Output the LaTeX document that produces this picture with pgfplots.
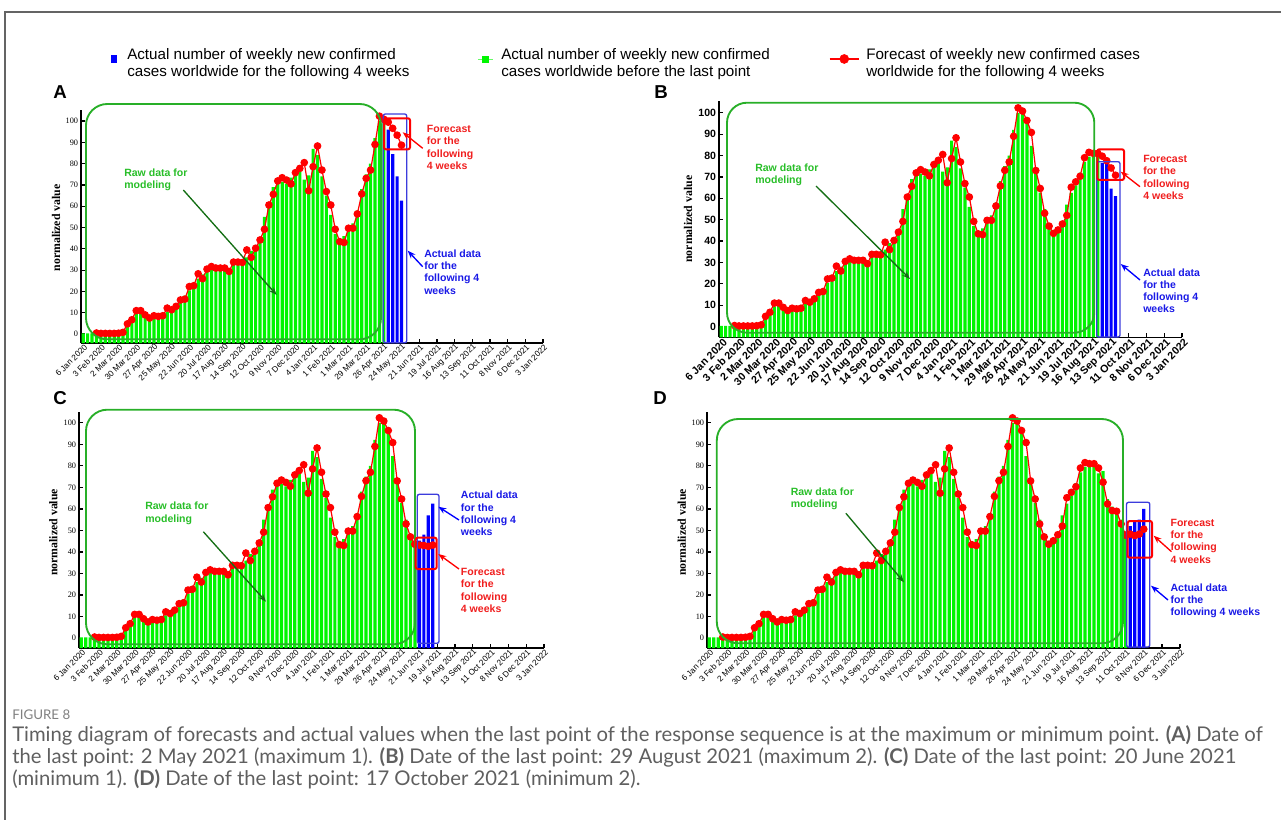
\documentclass[border=0pt]{standalone}
\usepackage{pgfplots}
\pgfplotsset{compat=1.18}
\usepackage{pgfplotstable}
\usepackage{fontspec}
\setmainfont{Liberation Serif}
\newfontfamily\arial{Liberation Sans}
\newfontfamily\lato{Lato}
\usetikzlibrary{arrows.meta}

\definecolor{grn}{RGB}{0,245,0}
\definecolor{grnbox}{RGB}{40,175,40}
\definecolor{grntxt}{RGB}{40,190,40}
\definecolor{grnarrow}{RGB}{20,110,20}
\definecolor{bl}{RGB}{0,0,255}
\definecolor{blbox}{RGB}{60,60,220}
\definecolor{bltxt}{RGB}{25,25,230}
\definecolor{rd}{RGB}{255,0,0}
\definecolor{rdtxt}{RGB}{240,30,30}
\definecolor{capgray}{RGB}{95,95,95}
\definecolor{framegray}{RGB}{100,100,100}

\newcommand\annfont{\arial\bfseries\fontsize{7.9}{9.2}\selectfont}

\pgfplotstableread{
w g
0 0.3
1 0.3
2 0.3
3 0.5
4 0.5
5 0.5
6 0.6
7 0.8
8 1.0
9 1.5
10 4
11 7
12 9.5
13 10
14 9
15 8.5
16 9
17 9.5
18 10
19 10.5
20 12
21 13.5
22 15.5
23 18
24 20.5
25 23.5
26 26
27 28
28 30
29 31.5
30 31.5
31 32
32 31
33 31
34 32.5
35 33.5
36 35
37 36
38 39
39 41
40 45
41 55
42 61
43 69
44 71
45 71.5
46 70.5
47 73.5
48 77
49 79
50 72.5
51 74.5
52 87
53 84
54 74
55 65
56 56
57 47
58 43
59 46
60 49
61 52
62 58
63 68
64 75
65 80
66 92
67 100
68 101
69 96
70 84.5
71 74
72 62.7
73 55
74 47
75 44
76 45.3
77 48
78 57
79 62.5
80 66
81 72
82 77
83 79.5
84 80
85 80
86 76.5
87 77.5
88 64.5
89 61
90 59
91 55
92 48
}\greentab

\pgfplotstableread{
w r
3 0.5
4 0.3
5 0.3
6 0.3
7 0.3
8 0.4
9 0.8
10 4.8
11 6.7
12 11
13 11
14 9
15 7.5
16 8.6
17 8.3
18 8.6
19 12.2
20 11.4
21 13
22 16
23 16.4
24 22.3
25 22.7
26 28.3
27 26
28 30.5
29 31.7
30 31
31 31
32 31
33 29.4
34 33.8
35 33.8
36 33.6
37 39.5
38 36
39 40.3
40 44.2
41 49.2
42 60.6
43 65.6
44 71.9
45 73.4
46 72.3
47 70.5
48 75.8
49 77.8
50 80.5
51 67.3
52 78.6
53 88.3
54 77
55 66.9
56 60.6
57 49.2
58 43.4
59 43
60 49.7
61 49.7
62 56.4
63 65.8
64 73.1
65 77
66 89
67 102.3
68 100.8
69 96.4
70 90.8
71 73
72 64.6
73 53
74 47
75 43.6
76 45.2
77 48
78 52
79 65.2
80 67.7
81 70.3
82 79
83 81.5
84 81
85 81
86 79
87 72.4
88 62.3
89 59.2
90 58.9
91 53
92 47.8
}\redtab

\pgfplotsset{
  panel/.style={
    scale only axis, anchor=south west,
    xmin=-0.5, xmax=104,
    axis x line*=bottom, axis y line*=left,
    axis line style={line width=1.1pt, -},
    tick align=inside, major tick length=3pt,
    tick style={line width=0.9pt, black},
    xtick={0,4,...,104},
    xticklabels={6 Jan 2020, 3 Feb 2020, 2 Mar 2020, 30 Mar 2020, 27 Apr 2020, 25 May 2020, 22 Jun 2020, 20 Jul 2020, 17 Aug 2020, 14 Sep 2020, 12 Oct 2020, 9 Nov 2020, 7 Dec 2020, 4 Jan 2021, 1 Feb 2021, 1 Mar 2021, 29 Mar 2021, 26 Apr 2021, 24 May 2021, 21 Jun 2021, 19 Jul 2021, 16 Aug 2021, 13 Sep 2021, 11 Oct 2021, 8 Nov 2021, 6 Dec 2021, 3 Jan 2022},
    ytick={5,15,25,35,45,55,65,75,85,95,105},
    yticklabels={0,10,20,30,40,50,60,70,80,90,100},
    y filter/.expression={y+5},
    clip mode=individual,
    ylabel={normalized value},
    ylabel style={font=\bfseries\fontsize{8.85}{10}\selectfont, anchor=center},
    xticklabel style={rotate=45, anchor=east, inner sep=1pt, yshift=-3pt, xshift=1pt},
    yticklabel style={inner sep=2pt},
  },
  smallticks/.style={
    xticklabel style={font=\arial\fontsize{6.2}{7}\selectfont},
    yticklabel style={font=\fontsize{6.2}{7}\selectfont},
  },
  gbar/.style={ybar, bar shift=0pt, bar width=0.72, fill=grn, draw=none},
  bbar/.style={ybar, bar shift=0pt, bar width=0.72, fill=bl, draw=none},
  rline/.style={color=rd, line width=0.9pt, mark=*, mark size=2.4pt, mark options={fill=rd, draw=rd}},
}

\begin{document}
\begin{tikzpicture}
\useasboundingbox (0,0) rectangle (960.75pt,614.25pt);

% ---------- Panel A ----------
\begin{axis}[panel, smallticks,
  at={(60.75pt,357pt)}, width=346.5pt, height=174.75pt,
  ymin=0.8, ymax=110.2,
  ylabel style={at={(axis description cs:-0.054,0.494)}},
  legend style={at={(axis description cs:0.0043,1.219)}, anchor=west, draw=none, fill=none,
    legend columns=3, inner sep=0pt, column sep=0pt, row sep=0pt,
    nodes={inner sep=0pt, outer sep=0pt},
    font=\arial\fontsize{11.4}{13.3}\selectfont},
  legend cell align=left,
]
\addlegendimage{legend image code/.code={\path[draw=none,fill=none] (0pt,-5pt) rectangle (33pt,5pt); \fill[bl] (21pt,-2.6pt) rectangle (24.4pt,2.6pt);}}
\addlegendentry{\parbox{246pt}{Actual number of weekly new confirmed\newline cases worldwide for the following 4 weeks}}
\addlegendimage{legend image code/.code={\path[draw=none,fill=none] (0pt,-5pt) rectangle (34.5pt,5pt); \draw[grn!60!white, line width=0.5pt] (17pt,0pt) -- (28.5pt,0pt); \fill[grn] (20.5pt,-2.25pt) rectangle (25pt,2.25pt);}}
\addlegendentry{\parbox{239.25pt}{Actual number of weekly new confirmed\newline cases worldwide before the last point}}
\addlegendimage{legend image code/.code={\path[draw=none,fill=none] (0pt,-5pt) rectangle (34.5pt,5pt); \draw[rd, line width=1.2pt] (7pt,0pt) -- (29pt,0pt); \fill[rd] (18pt,0pt) circle (3.4pt);}}
\addlegendentry{\parbox{225pt}{Forecast of weekly new confirmed cases\newline worldwide for the following 4 weeks}}

\addplot[gbar, restrict x to domain=0:68, forget plot] table[x=w,y=g]{\greentab};
\addplot[bbar, forget plot] coordinates {(69,96) (70,84.5) (71,74) (72,62.7)};
\addplot[rline, restrict x to domain=3:68, forget plot] table[x=w,y=r]{\redtab};
\addplot[rline, forget plot] coordinates {(68,100.8) (69,99.5) (70,96.6) (71,93.4) (72,88.7)};
\end{axis}

% ---------- Panel B ----------
\begin{axis}[panel,
  at={(539.25pt,361.275pt)}, width=347.25pt, height=177.2pt,
  ymin=0, ymax=110.5,
  ylabel style={at={(axis description cs:-0.067,0.50)}},
  xticklabel style={font=\arial\bfseries\fontsize{8}{9}\selectfont, inner sep=0.5pt, yshift=-1pt},
  yticklabel style={font=\arial\bfseries\fontsize{7.9}{9}\selectfont},
]
\addplot[gbar, restrict x to domain=0:85] table[x=w,y=g]{\greentab};
\addplot[bbar] coordinates {(86,76.5) (87,77.5) (88,64.5) (89,61)};
\addplot[rline, restrict x to domain=3:85] table[x=w,y=r]{\redtab};
\addplot[rline] coordinates {(85,81) (86,79.7) (87,77.6) (88,74.2) (89,70.8)};
\end{axis}

% ---------- Panel C ----------
\begin{axis}[panel, smallticks,
  at={(59.25pt,128.25pt)}, width=348.75pt, height=177pt,
  ymin=0.4, ymax=110,
  ylabel style={at={(axis description cs:-0.055,0.49)}},
]
\addplot[gbar, restrict x to domain=0:75] table[x=w,y=g]{\greentab};
\addplot[bbar] coordinates {(76,45.3) (77,48) (78,57) (79,62.5)};
\addplot[rline, restrict x to domain=3:75] table[x=w,y=r]{\redtab};
\addplot[rline] coordinates {(75,43.6) (76,43.2) (77,43) (78,42.6) (79,43.2)};
\end{axis}

% ---------- Panel D ----------
\begin{axis}[panel, smallticks,
  at={(530.25pt,128.25pt)}, width=354.75pt, height=177pt,
  ymin=0.4, ymax=110,
  ylabel style={at={(axis description cs:-0.053,0.49)}},
]
\addplot[gbar, restrict x to domain=0:92] table[x=w,y=g]{\greentab};
\addplot[bbar] coordinates {(93,52) (94,54) (95,55) (96,60)};
\addplot[rline, restrict x to domain=3:92] table[x=w,y=r]{\redtab};
\addplot[rline] coordinates {(92,47.8) (93,48.3) (94,47.6) (95,48.3) (96,50.6)};
\end{axis}

% ---------- Annotations (pixel coordinates) ----------
\begin{scope}[x=0.75pt,y=-0.75pt,yshift=614.25pt]
% frame
\draw[framegray, line width=1.1pt] (5,1000) -- (5,12) -- (1290,12);
% panel letters
\foreach \l/\x/\y in {A/60/92, B/661/92, C/60/398, D/660/398}
  \node[font=\arial\bfseries\fontsize{14}{16}\selectfont] at (\x,\y) {\l};

% Panel A
\draw[grnbox, line width=1.4pt, rounded corners=16pt] (86,104) rectangle (381,339.3);
\draw[blbox, line width=1pt, rounded corners=1.5pt] (383.3,114) rectangle (406.7,342.7);
\draw[rd, line width=1.5pt, rounded corners=1.5pt] (384,118.3) rectangle (410,149.3);
\node[anchor=west, align=left, inner sep=0pt, text=rdtxt, font=\annfont] at (426.7,147.3) {Forecast\\for the\\following\\4 weeks};
\node[anchor=west, align=left, inner sep=0pt, text=bltxt, font=\annfont] at (424,272) {Actual data\\for the\\following 4\\weeks};
\draw[rd, line width=1pt, -{Stealth[length=6pt,width=4.5pt]}] (422.7,148.3) -- (402.7,132.3);
\draw[bl, line width=1pt, -{Stealth[length=6pt,width=4.5pt]}] (422.7,266.7) -- (407.7,250.7);
\node[anchor=west, align=left, inner sep=0pt, text=grntxt, font=\annfont] at (124,179.7) {Raw data for\\modeling};
\draw[grnarrow, line width=1pt, -{Stealth[length=6pt,width=4.5pt]}] (183.3,190) -- (276.7,295);

% Panel B
\draw[grnbox, line width=1.4pt, rounded corners=15pt] (727,102.7) rectangle (1094.3,332.7);
\draw[blbox, line width=1pt, rounded corners=1.5pt] (1096.7,161.7) rectangle (1120,337);
\draw[rd, line width=1.5pt, rounded corners=1.5pt] (1097.3,149.3) rectangle (1124,180);
\node[anchor=west, align=left, inner sep=0pt, text=rdtxt, font=\annfont] at (1143,177.5) {Forecast\\for the\\following\\4 weeks};
\node[anchor=west, align=left, inner sep=0pt, text=bltxt, font=\annfont] at (1143,290.7) {Actual data\\for the\\following 4\\weeks};
\draw[rd, line width=1pt, -{Stealth[length=6pt,width=4.5pt]}] (1140,186.7) -- (1120.7,171.7);
\draw[bl, line width=1pt, -{Stealth[length=6pt,width=4.5pt]}] (1140,280) -- (1120.7,264);
\node[anchor=west, align=left, inner sep=0pt, text=grntxt, font=\annfont] at (755,174.5) {Raw data for\\modeling};
\draw[grnarrow, line width=1pt, -{Stealth[length=6pt,width=4.5pt]}] (816,186) -- (910,279);

% Panel C
\draw[grnbox, line width=1.4pt, rounded corners=16pt] (86,409.7) rectangle (415,644.3);
\draw[blbox, line width=1pt, rounded corners=1.5pt] (417.3,494.3) rectangle (439,643.3);
\draw[rd, line width=1.5pt, rounded corners=1.5pt] (415.7,537.7) rectangle (436.7,569);
\node[anchor=west, align=left, inner sep=0pt, text=bltxt, font=\annfont] at (460.7,513.5) {Actual data\\for the\\following 4\\weeks};
\node[anchor=west, align=left, inner sep=0pt, text=rdtxt, font=\annfont] at (460.7,590.5) {Forecast\\for the\\following\\4 weeks};
\draw[bl, line width=1pt, -{Stealth[length=6pt,width=4.5pt]}] (459,520) -- (438.3,506.7);
\draw[rd, line width=1pt, -{Stealth[length=6pt,width=4.5pt]}] (459,569) -- (438.3,554);
\node[anchor=west, align=left, inner sep=0pt, text=grntxt, font=\annfont] at (145,513.3) {Raw data for\\modeling};
\draw[grnarrow, line width=1pt, -{Stealth[length=6pt,width=4.5pt]}] (203.3,531.7) -- (266,601.7);

% Panel D
\draw[grnbox, line width=1.4pt, rounded corners=16pt] (716.8,419) rectangle (1123,643.3);
\draw[blbox, line width=1pt, rounded corners=1.5pt] (1126.5,502.3) rectangle (1149.8,647);
\draw[rd, line width=1.5pt, rounded corners=1.5pt] (1127.7,521) rectangle (1152,557.7);
\node[anchor=west, align=left, inner sep=0pt, text=rdtxt, font=\annfont] at (1170.3,541.2) {Forecast\\for the\\following\\4 weeks};
\node[anchor=west, align=left, inner sep=0pt, text=bltxt, font=\annfont] at (1170.3,600.8) {Actual data\\for the\\following 4 weeks};
\draw[rd, line width=1pt, -{Stealth[length=6pt,width=4.5pt]}] (1171.5,551.7) -- (1153.6,535.7);
\draw[bl, line width=1pt, -{Stealth[length=6pt,width=4.5pt]}] (1168,600) -- (1151,585.7);
\node[anchor=west, align=left, inner sep=0pt, text=grntxt, font=\annfont] at (790.5,498.7) {Raw data for\\modeling};
\draw[grnarrow, line width=1pt, -{Stealth[length=6pt,width=4.5pt]}] (845.9,513.3) -- (904,582.3);

% caption
\node[anchor=west, inner sep=0pt, text=gray, font=\lato\fontsize{10}{12}\selectfont] at (12,715) {FIGURE 8};
\node[anchor=west, inner sep=0pt, text=capgray, font=\lato\fontsize{15.2}{17}\selectfont] at (12,735) {Timing diagram of forecasts and actual values when the last point of the response sequence is at the maximum or minimum point. \textbf{(A)} Date of};
\node[anchor=west, inner sep=0pt, text=capgray, font=\lato\fontsize{15.2}{17}\selectfont] at (12,757) {the last point: 2 May 2021 (maximum 1). \textbf{(B)} Date of the last point: 29 August 2021 (maximum 2). \textbf{(C)} Date of the last point: 20 June 2021};
\node[anchor=west, inner sep=0pt, text=capgray, font=\lato\fontsize{15.2}{17}\selectfont] at (12,779) {(minimum 1). \textbf{(D)} Date of the last point: 17 October 2021 (minimum 2).};
\end{scope}
\end{tikzpicture}
\end{document}
